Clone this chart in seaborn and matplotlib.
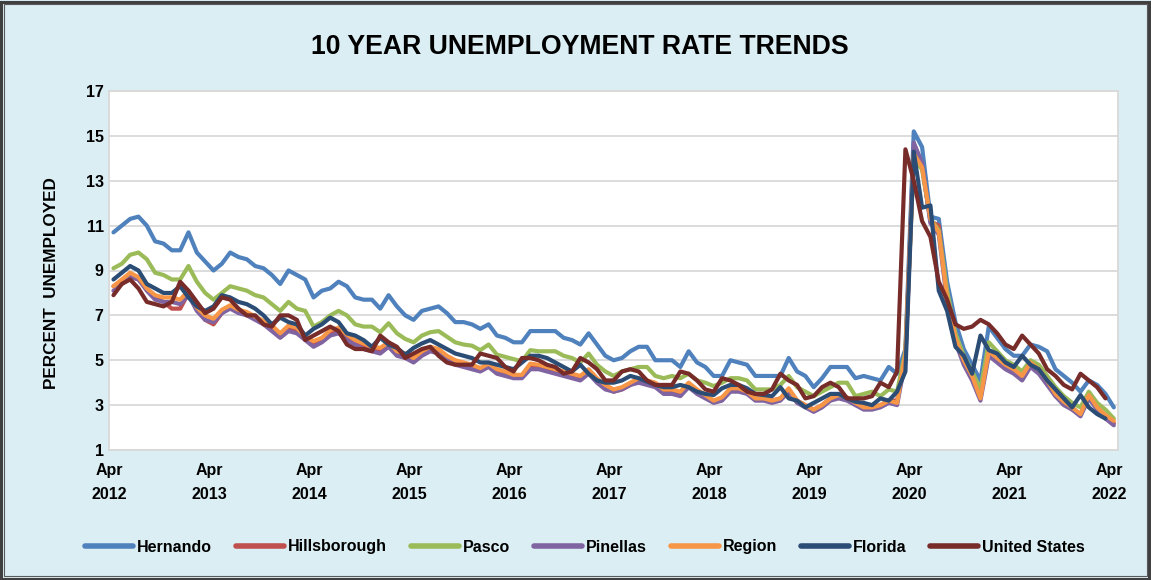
import matplotlib
matplotlib.use("Agg")
import matplotlib.pyplot as plt
from matplotlib.patches import Rectangle
import numpy as np
import pandas as pd
import seaborn as sns

# Monthly unemployment rates (%); first point sits at the Apr 2012 tick
hernando = [
    10.7, 11.0, 11.3, 11.4, 11.0, 10.3, 10.2, 9.9, 9.9, 10.7, 9.8, 9.4, 9.0, 9.3, 9.8, 9.6, 9.5,
    9.2, 9.1, 8.8, 8.4, 9.0, 8.8, 8.6, 7.8, 8.1, 8.2, 8.5, 8.3, 7.8, 7.7, 7.7, 7.3, 7.9, 7.4, 7.0, 6.8,
    7.2, 7.3, 7.4, 7.1, 6.7, 6.7, 6.6, 6.4, 6.6, 6.1, 6.0, 5.8, 5.8, 6.3, 6.3, 6.3, 6.3, 6.0, 5.9,
    5.7, 6.2, 5.7, 5.2, 5.0, 5.1, 5.4, 5.6, 5.6, 5.0, 5.0, 5.0, 4.7, 5.4, 4.9, 4.7, 4.3, 4.3,
    5.0, 4.9, 4.8, 4.3, 4.3, 4.3, 4.3, 5.1, 4.5, 4.3, 3.8, 4.2, 4.7, 4.7, 4.7, 4.2, 4.3, 4.2, 4.1,
    4.7, 4.4, 5.5, 15.2, 14.5, 11.4, 11.3, 8.5, 6.7, 5.5, 4.8, 4.1, 6.5, 6.0, 5.5, 5.2, 5.2, 5.7,
    5.6, 5.4, 4.6, 4.3, 4.0, 3.6, 4.1, 3.9, 3.5, 2.9,
]
hillsborough = [
    8.3, 8.5, 8.8, 8.6, 8.2, 7.8, 7.6, 7.3, 7.3, 8.0, 7.3, 6.8, 6.6, 7.1, 7.4, 7.2, 7.1,
    6.9, 6.7, 6.4, 6.1, 6.4, 6.3, 6.0, 5.7, 5.9, 6.2, 6.3, 6.0, 5.8, 5.6, 5.5, 5.4, 5.7, 5.3, 5.2, 5.0,
    5.3, 5.5, 5.4, 5.1, 4.9, 4.8, 4.7, 4.6, 4.8, 4.5, 4.4, 4.3, 4.3, 4.7, 4.7, 4.6, 4.5, 4.4, 4.3,
    4.2, 4.5, 4.1, 3.8, 3.6, 3.7, 3.9, 4.1, 4.0, 3.9, 3.6, 3.6, 3.5, 3.9, 3.6, 3.4, 3.2, 3.3,
    3.7, 3.7, 3.6, 3.3, 3.3, 3.2, 3.3, 3.7, 3.2, 3.0, 2.8, 3.0, 3.3, 3.4, 3.3, 3.1, 2.9, 2.9, 3.0,
    3.2, 3.2, 5.2, 14.2, 13.6, 11.2, 11.0, 7.8, 5.9, 4.9, 4.2, 3.4, 5.3, 5.0, 4.7, 4.5, 4.2, 4.8,
    4.5, 4.0, 3.4, 3.1, 2.8, 2.6, 3.4, 2.9, 2.5, 2.2,
]
pasco = [
    9.1, 9.3, 9.7, 9.8, 9.5, 8.9, 8.8, 8.6, 8.6, 9.2, 8.5, 8.0, 7.7, 8.0, 8.3, 8.2, 8.1,
    7.9, 7.8, 7.5, 7.2, 7.6, 7.3, 7.2, 6.5, 6.7, 7.0, 7.2, 7.0, 6.6, 6.5, 6.5, 6.25, 6.65, 6.2, 5.95, 5.8,
    6.1, 6.25, 6.3, 6.05, 5.8, 5.7, 5.65, 5.45, 5.7, 5.25, 5.15, 5.05, 4.95, 5.45, 5.4, 5.4, 5.4, 5.2, 5.1,
    4.9, 5.3, 4.8, 4.5, 4.3, 4.5, 4.6, 4.7, 4.7, 4.3, 4.2, 4.3, 4.2, 4.4, 4.1, 4.0, 3.85, 4.0,
    4.2, 4.2, 4.1, 3.7, 3.7, 3.7, 3.9, 4.3, 3.8, 3.6, 3.4, 3.6, 3.8, 4.0, 4.0, 3.4, 3.5, 3.6, 3.4,
    3.7, 3.6, 5.4, 14.0, 13.5, 11.3, 10.8, 8.1, 6.2, 5.2, 4.5, 3.7, 5.8, 5.4, 5.0, 4.8, 4.5, 5.0,
    4.8, 4.3, 3.8, 3.4, 3.1, 2.9, 3.6, 3.1, 2.8, 2.4,
]
pinellas = [
    8.1, 8.4, 8.7, 8.6, 8.1, 7.7, 7.6, 7.6, 7.5, 7.9, 7.2, 6.8, 6.7, 7.1, 7.3, 7.1, 7.0,
    6.8, 6.6, 6.3, 6.0, 6.3, 6.2, 5.9, 5.6, 5.8, 6.1, 6.2, 5.9, 5.7, 5.5, 5.4, 5.3, 5.6, 5.2, 5.1, 4.9,
    5.2, 5.4, 5.3, 5.0, 4.8, 4.7, 4.6, 4.5, 4.7, 4.4, 4.3, 4.2, 4.2, 4.6, 4.6, 4.5, 4.4, 4.3, 4.2,
    4.1, 4.4, 4.0, 3.7, 3.6, 3.7, 3.9, 4.0, 3.9, 3.8, 3.5, 3.5, 3.4, 3.8, 3.5, 3.3, 3.1, 3.2,
    3.6, 3.6, 3.5, 3.2, 3.2, 3.1, 3.2, 3.6, 3.1, 2.9, 2.7, 2.9, 3.2, 3.3, 3.2, 3.0, 2.8, 2.8, 2.9,
    3.1, 3.0, 5.0, 14.7, 13.8, 11.1, 10.6, 7.6, 5.8, 4.8, 4.1, 3.2, 5.2, 4.9, 4.6, 4.4, 4.1, 4.7,
    4.4, 3.9, 3.4, 3.0, 2.8, 2.5, 3.3, 2.8, 2.4, 2.1,
]
region = [
    8.3, 8.6, 8.9, 8.7, 8.2, 7.9, 7.8, 7.8, 7.7, 8.1, 7.35, 7.0, 6.85, 7.25, 7.45, 7.25, 7.15,
    6.95, 6.75, 6.55, 6.2, 6.55, 6.45, 6.05, 5.85, 6.0, 6.35, 6.45, 6.15, 5.9, 5.75, 5.6, 5.55, 5.8, 5.4, 5.3, 5.1,
    5.4, 5.6, 5.5, 5.2, 5.0, 4.9, 4.8, 4.65, 4.85, 4.6, 4.5, 4.35, 4.35, 4.85, 4.8, 4.7, 4.6, 4.5, 4.4,
    4.3, 4.6, 4.2, 3.9, 3.7, 3.8, 4.0, 4.2, 4.1, 4.0, 3.7, 3.7, 3.6, 4.0, 3.7, 3.45, 3.2, 3.35,
    3.75, 3.75, 3.6, 3.3, 3.3, 3.2, 3.3, 3.75, 3.2, 3.0, 2.8, 3.0, 3.3, 3.45, 3.35, 3.1, 2.9, 2.9, 3.0,
    3.2, 3.1, 5.3, 14.2, 13.6, 11.3, 10.7, 7.8, 6.0, 5.0, 4.3, 3.3, 5.4, 5.1, 4.8, 4.6, 4.3, 4.9,
    4.6, 4.1, 3.5, 3.15, 2.9, 2.6, 3.45, 2.9, 2.55, 2.3,
]
florida = [
    8.6, 8.9, 9.2, 9.0, 8.4, 8.2, 8.0, 8.0, 8.3, 7.8, 7.4, 7.2, 7.4, 7.9, 7.8, 7.6, 7.5,
    7.3, 7.0, 6.6, 6.9, 6.7, 6.6, 6.1, 6.4, 6.6, 6.9, 6.7, 6.2, 6.1, 5.9, 5.6, 6.0, 5.7, 5.55, 5.25, 5.55,
    5.75, 5.9, 5.7, 5.5, 5.3, 5.2, 5.1, 4.9, 4.9, 4.8, 4.7, 4.6, 4.9, 5.2, 5.2, 5.1, 4.9, 4.7, 4.5,
    4.8, 4.4, 4.1, 4.0, 4.0, 4.1, 4.3, 4.2, 4.05, 3.9, 3.8, 3.8, 3.9, 3.8, 3.6, 3.5, 3.45, 3.75,
    3.9, 3.9, 3.75, 3.5, 3.45, 3.4, 3.8, 3.3, 3.2, 2.9, 3.1, 3.3, 3.5, 3.5, 3.3, 3.15, 3.1, 3.0, 3.3,
    3.2, 3.6, 4.5, 14.3, 11.8, 11.9, 8.1, 7.2, 5.6, 5.2, 4.4, 6.1, 5.45, 5.3, 4.9, 4.7, 5.2,
    4.8, 4.6, 4.1, 3.7, 3.3, 2.9, 3.45, 2.9, 2.6, 2.4,
]
united_states = [
    7.9, 8.4, 8.6, 8.2, 7.6, 7.5, 7.4, 7.6,
    8.5, 8.1, 7.6, 7.1, 7.3, 7.8, 7.7, 7.3, 7.0, 7.0, 6.6, 6.5,
    7.0, 7.0, 6.8, 5.9, 6.1, 6.3, 6.5, 6.3, 5.7, 5.5, 5.5, 5.4,
    6.1, 5.8, 5.6, 5.1, 5.3, 5.5, 5.6, 5.2, 4.9, 4.8, 4.8, 4.8,
    5.3, 5.2, 5.1, 4.7, 4.5, 5.1, 5.1, 5.0, 4.8, 4.7, 4.4, 4.5,
    5.1, 4.9, 4.6, 4.1, 4.1, 4.5, 4.6, 4.5, 4.1, 3.9, 3.9, 3.9,
    4.5, 4.4, 4.1, 3.7, 3.6, 4.2, 4.1, 3.9, 3.6, 3.5, 3.5, 3.7,
    4.4, 4.1, 3.9, 3.3, 3.4, 3.8, 4.0, 3.8, 3.3, 3.3, 3.3, 3.4,
    4.0, 3.8, 4.5, 14.4, 13.0, 11.2, 10.5, 8.5, 7.7, 6.6, 6.4, 6.5,
    6.8, 6.6, 6.2, 5.7, 5.5, 6.1, 5.7, 5.3, 4.6, 4.3, 3.9, 3.7,
    4.4, 4.1, 3.8, 3.3,
]

series_names = ["Hernando", "Hillsborough", "Pasco", "Pinellas", "Region", "Florida", "United States"]
series_values = [hernando, hillsborough, pasco, pinellas, region, florida, united_states]
colors = ["#4F81BD", "#C0504D", "#9BBB59", "#8064A2", "#F79646", "#2B4C74", "#772C2A"]
tick_years = list(range(2012, 2023))

frames = []
for name, vals in zip(series_names, series_values):
    # points sit half a month to the right of the month tick
    frames.append(pd.DataFrame({"month": np.arange(len(vals)) + 0.5, "rate": vals, "area": name}))
df = pd.concat(frames, ignore_index=True)

sns.set_theme(style="white")
plt.rcParams["font.family"] = ["Liberation Sans", "DejaVu Sans"]
plt.rcParams["font.weight"] = "bold"
plt.rcParams["text.color"] = "black"

W, H = 1151, 580
bg = "#DBEEF4"
grid_c = "#D9D9D9"

fig = plt.figure(figsize=(W / 100, H / 100), dpi=100)
fig.patch.set_facecolor(bg)
ax = fig.add_axes([109.3 / W, 1 - 450 / H, (1118 - 109.3) / W, (450 - 91) / H])
ax.set_facecolor("white")

sns.lineplot(
    data=df, x="month", y="rate", hue="area", hue_order=series_names,
    palette=dict(zip(series_names, colors)), linewidth=3.0, sort=False, ax=ax,
)

ax.set_xlim(0, 121)
ax.set_ylim(1, 17)
ax.set_yticks(range(1, 18, 2))
ax.set_xticks(range(0, 121, 12))
ax.set_xticklabels([f"Apr\n{y}" for y in tick_years], linespacing=1.7)
ax.tick_params(axis="x", direction="inout", length=9, width=1.2, color="#BFBFBF", pad=5,
               labelsize=11.5, labelcolor="black")
ax.tick_params(axis="y", length=0, pad=4, labelsize=11.5, labelcolor="black")
ax.yaxis.grid(True, color=grid_c, linewidth=1.3)
ax.set_axisbelow(True)
for s in ax.spines.values():
    s.set_color(grid_c)
    s.set_linewidth(1.3)
ax.set_xlabel("")
ax.set_ylabel("")

handles, labels = ax.get_legend_handles_labels()
ax.get_legend().remove()
leg = fig.legend(
    handles, labels, loc="center", bbox_to_anchor=(585 / W, 1 - 547 / H), ncol=7,
    frameon=False, handlelength=3.0, handletextpad=0.25, columnspacing=1.5,
    prop={"size": 11.5, "weight": "bold"}, labelcolor="black",
)
for line in leg.get_lines():
    line.set_linewidth(4)

fig.text(580 / W, 1 - 47 / H, "10 YEAR UNEMPLOYMENT RATE TRENDS", ha="center", va="center",
         fontsize=19.2, fontweight="bold", color="black")
fig.text(52 / W, 1 - 283 / H, "PERCENT  UNEMPLOYED", ha="center", va="center", rotation=90,
         fontsize=12.3, fontweight="bold", color="black")

# double frame around the whole chart
fig.add_artist(Rectangle((0.001, 0.002), 0.997, 0.995, transform=fig.transFigure, fill=False,
                         edgecolor="#404040", linewidth=2.2))
fig.add_artist(Rectangle((4 / W, 4 / H), 1 - 8 / W, 1 - 8 / H, transform=fig.transFigure,
                         fill=False, edgecolor="#595959", linewidth=0.8))

fig.savefig("out.png", dpi=100, facecolor=fig.get_facecolor())
